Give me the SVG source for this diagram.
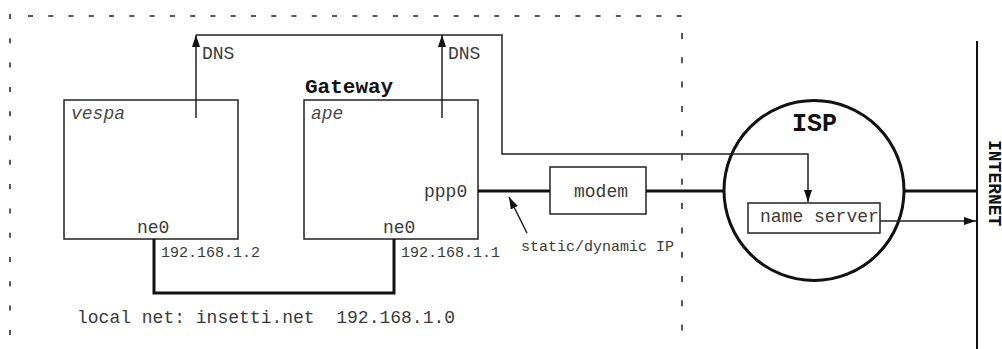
<svg xmlns="http://www.w3.org/2000/svg" width="1002" height="349" viewBox="0 0 1002 349">
<style>
text{font-family:"Liberation Mono","Courier New",monospace;fill:#3a3a3a;white-space:pre;}
.m{font-size:18px;}
.s{font-size:15px;}
.i{font-size:18px;font-style:italic;fill:#4a4a4a;}
.b{font-weight:bold;fill:#111;}
.box{fill:none;stroke:#222;stroke-width:1.5;}
.thin{fill:none;stroke:#222;stroke-width:1.5;}
.thick{fill:none;stroke:#111;stroke-width:3;}
.dash{fill:none;stroke:#222;stroke-width:1.5;}
</style>
<defs>
<marker id="ah" markerUnits="userSpaceOnUse" markerWidth="12" markerHeight="8" refX="12" refY="4" orient="auto">
<path d="M0,0 L12,4 L0,8 z" fill="#111"/>
</marker>
</defs>
<rect width="1002" height="349" fill="#fff"/>
<g id="boundary">
<line class="dash" x1="28" y1="16" x2="683" y2="16" stroke-dasharray="5 15.27"/>
<line class="dash" x1="10" y1="14" x2="10" y2="340" stroke-dasharray="5 19.3"/>
<line class="dash" x1="682" y1="33" x2="682" y2="349" stroke-dasharray="6 18.3"/>
</g>
<g id="vespa">
<rect class="box" x="64" y="100" width="174" height="139"/>
<text class="i" x="71" y="119">vespa</text>
<text class="m" x="137" y="233">ne0</text>
</g>
<g id="gateway">
<text class="b" x="305" y="93" style="font-size:21px">Gateway</text>
<rect class="box" x="304" y="100" width="174" height="139"/>
<text class="i" x="311" y="119">ape</text>
<text class="m" x="383" y="233">ne0</text>
<text class="m" x="424" y="197">ppp0</text>
</g>
<g id="modem">
<rect class="box" x="550" y="167" width="96" height="47"/>
<text class="m" x="574" y="197">modem</text>
</g>
<g id="isp">
<circle cx="814" cy="190.5" r="90" fill="none" stroke="#111" stroke-width="3"/>
<text class="b" x="792" y="131" style="font-size:25px">ISP</text>
</g>
<g id="nameserver">
<rect class="box" x="748" y="203" width="132" height="30"/>
<text class="m" x="760" y="222">name server</text>
</g>
<g id="internet">
<line x1="977" y1="41" x2="977" y2="349" stroke="#111" stroke-width="2"/>
<text class="b" transform="translate(989,140) rotate(90)" style="font-size:18px">INTERNET</text>
</g>
<g id="connectors">
<line class="thin" x1="196" y1="118" x2="196" y2="35" marker-end="url(#ah)"/>
<line class="thin" x1="442" y1="118" x2="442" y2="35" marker-end="url(#ah)"/>
<polyline class="thin" points="196,35 502,35 502,154 808,154 808,202" marker-end="url(#ah)"/>
<polyline class="thick" points="154,239 154,293 394,293 394,239"/>
<line class="thick" x1="478" y1="191" x2="550" y2="191"/>
<line class="thick" x1="646" y1="191" x2="724" y2="191"/>
<line class="thick" x1="904" y1="191" x2="977" y2="191"/>
<line class="thin" x1="880" y1="221" x2="976" y2="221" marker-end="url(#ah)"/>
<line class="thin" x1="527" y1="233" x2="509" y2="197" marker-end="url(#ah)"/>
</g>
<g id="labels">
<text class="m" x="202" y="59">DNS</text>
<text class="m" x="448" y="59">DNS</text>
<text class="s" x="161" y="257">192.168.1.2</text>
<text class="s" x="401" y="257">192.168.1.1</text>
<text class="s" x="521" y="251">static/dynamic IP</text>
<text class="m" x="77" y="323" xml:space="preserve">local net: insetti.net  192.168.1.0</text>
</g>
</svg>
